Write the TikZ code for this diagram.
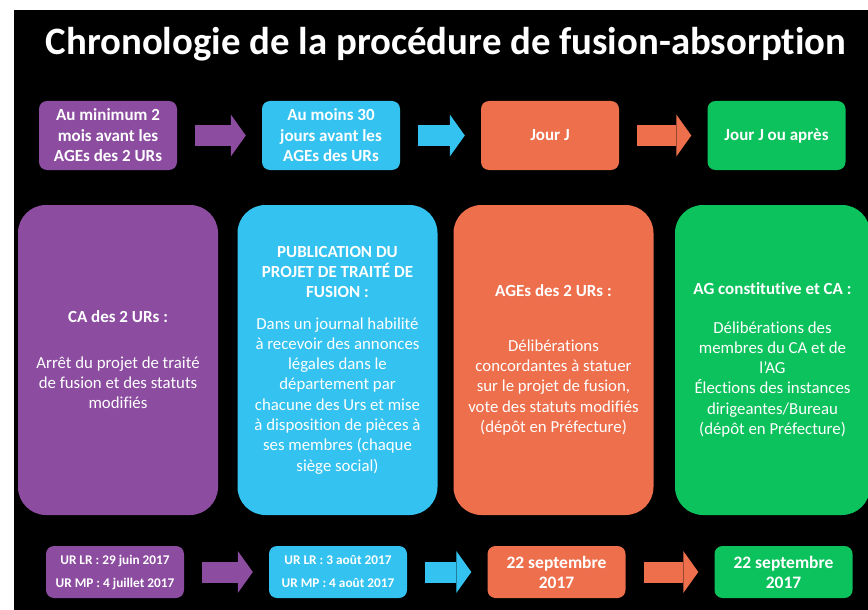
\documentclass[tikz,border=0pt]{standalone}
\usepackage{fontspec}
\setmainfont{Carlito}[Ligatures=NoCommon]
\usetikzlibrary{arrows.meta}
\definecolor{ctPurple}{RGB}{140,76,160}
\definecolor{ctCyan}{RGB}{52,194,240}
\definecolor{ctOrange}{RGB}{237,111,76}
\definecolor{ctGreen}{RGB}{12,194,92}

\begin{document}
\begin{tikzpicture}[x=1pt,y=-1pt,
  datebox/.style={rounded corners=8pt,minimum width=138pt,minimum height=69pt,inner sep=0pt,
    text=white,align=center,font=\bfseries\fontsize{17}{20.5}\selectfont},
  stepbox/.style={rounded corners=28pt,minimum width=200pt,minimum height=310pt,inner sep=0pt,
    text=white,align=center,font=\fontsize{16.8}{20.3}\selectfont},
  daybox/.style={rounded corners=8pt,minimum width=138pt,minimum height=52pt,inner sep=0pt,
    text=white,align=center,font=\bfseries\fontsize{17.5}{20}\selectfont},
  bigarrow/.style={line width=21pt,-{Triangle[width=42pt,length=15pt,line width=0pt]},
    shorten <=18pt,shorten >=16pt}]
   \useasboundingbox (0,0) rectangle (868,610);
   \fill[white] (0,0) rectangle (868,610);
   \fill[black] (14,10) rectangle (868,610);
   \node[text=white,anchor=base,font=\bfseries\fontsize{38.8}{44}\selectfont] (title) at (446,55)
      {Chronologie de la procédure de fusion-absorption};

   \node[datebox,fill=ctPurple] (t1) at (108,135.5) {Au minimum 2\\mois avant les\\AGEs des 2 URs};
   \node[datebox,fill=ctCyan] (t2) at (331,135.5) {Au moins 30\\jours avant les\\AGEs des URs};
   \node[datebox,fill=ctOrange] (t3) at (550,135.5) {Jour J};
   \node[datebox,fill=ctGreen] (t4) at (776.5,135.5) {Jour J ou après};

   \node[stepbox,fill=ctPurple] (m1) at (118,360) {\textbf{\fontsize{17}{20.3}\selectfont CA des 2 URs :}\\[25pt]
      Arrêt du projet de traité\\de fusion et des statuts\\modifiés};
   \node[stepbox,fill=ctCyan] (m2) at (337.5,360) {\textbf{\fontsize{17}{20.3}\selectfont PUBLICATION DU}\\
      \textbf{\fontsize{17}{20.3}\selectfont PROJET DE TRAITÉ DE}\\\textbf{\fontsize{17}{20.3}\selectfont FUSION :}\\[11pt]
      Dans un journal habilité\\à recevoir des annonces\\légales dans le\\département par\\chacune des Urs et mise\\à disposition de pièces à\\ses membres (chaque\\siège social)};
   \node[stepbox,fill=ctOrange] (m3) at (553.5,360) {\textbf{\fontsize{17}{20.3}\selectfont AGEs des 2 URs :}\\[34pt]
      Délibérations\\concordantes à statuer\\sur le projet de fusion,\\vote des statuts modifiés\\(dépôt en Préfecture)};
   \node[stepbox,fill=ctGreen,minimum width=195pt] (m4) at (772.5,360) {\textbf{\fontsize{17}{20.3}\selectfont AG constitutive et CA :}\\[18pt]
      Délibérations des\\membres du CA et de\\l’AG\\Élections des instances\\dirigeantes/Bureau\\(dépôt en Préfecture)};

   \node[daybox,fill=ctPurple,font=\bfseries\fontsize{13.3}{23}\selectfont] (b1) at (115,572) {UR LR : 29 juin 2017\\UR MP : 4 juillet 2017};
   \node[daybox,fill=ctCyan,font=\bfseries\fontsize{13.3}{23}\selectfont] (b2) at (338,572) {UR LR : 3 août 2017\\UR MP : 4 août 2017};
   \node[daybox,fill=ctOrange] (b3) at (556.5,572) {22 septembre\\2017};
   \node[daybox,fill=ctGreen] (b4) at (783.5,572) {22 septembre\\2017};

   \draw[bigarrow,ctPurple] (t1) -- (t2);
   \draw[bigarrow,ctCyan] (t2) -- (t3);
   \draw[bigarrow,ctOrange] (t3) -- (t4);
   \draw[bigarrow,ctPurple] (b1) -- (b2);
   \draw[bigarrow,ctCyan] (b2) -- (b3);
   \draw[bigarrow,ctOrange] (b3) -- (b4);
\end{tikzpicture}
\end{document}
